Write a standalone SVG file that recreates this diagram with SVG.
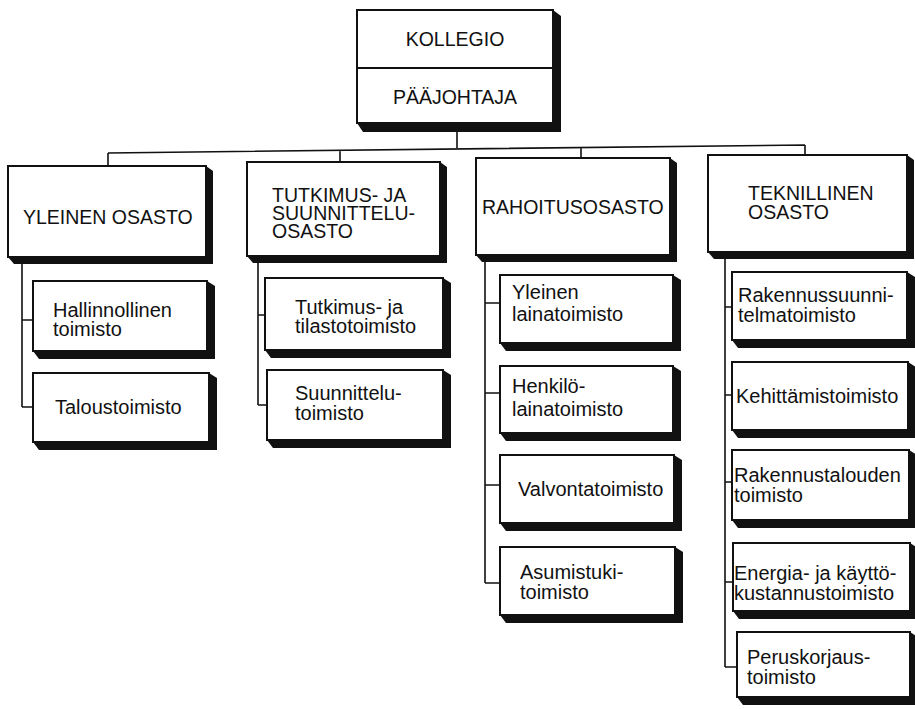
<svg xmlns="http://www.w3.org/2000/svg" width="915" height="709" viewBox="0 0 915 709">
<style>
.box{fill:#fff;stroke:#111;stroke-width:2}
.sh{fill:#111}
.c{fill:none;stroke:#111;stroke-width:1.6}
.t{font-family:"Liberation Sans",Arial,Helvetica,sans-serif;font-size:20px;fill:#111}
.u{font-size:19.5px}
.m{text-anchor:middle}
</style>
<rect width="915" height="709" fill="#fff"/>
<g id="connectors">
<path class="c" d="M457,132V148M108,153L805,145M108,153V166M340,150.3V162M581,147.6V158M805,145V155"/>
<path class="c" d="M22,257V407M22,320H33M22,407H33"/>
<path class="c" d="M258,256V405M258,315H265M258,405H267"/>
<path class="c" d="M485,255V583M485,303H500M485,393H500M485,485H500M485,583H500"/>
<path class="c" d="M725,252V667M725,307H732M725,395H732M725,482H732M725,582H733M725,667H737"/>
</g>
<g id="kollegio">
<polygon class="sh" points="553,10 561,16 561,132 363,132 357,123"/>
<rect class="box" x="357" y="10" width="196" height="113"/>
<line x1="357" y1="68" x2="553" y2="68" stroke="#111" stroke-width="2"/>
<text class="t u m" x="455" y="46">KOLLEGIO</text>
<text class="t u m" x="455" y="104">PÄÄJOHTAJA</text>
</g>
<g id="yleinen-osasto">
<polygon class="sh" points="206,166 213,171 213,264 14,264 8,257"/>
<rect class="box" x="8" y="166" width="198" height="91"/>
<text class="t u" x="23" y="224">YLEINEN OSASTO</text>
</g>
<g id="tutkimus-osasto">
<polygon class="sh" points="440,162 447,167 447,263 253,263 247,256"/>
<rect class="box" x="247" y="162" width="193" height="94"/>
<text class="t u" x="272" y="202">TUTKIMUS- JA</text>
<text class="t u" x="272" y="220">SUUNNITTELU-</text>
<text class="t u" x="272" y="238">OSASTO</text>
</g>
<g id="rahoitusosasto">
<polygon class="sh" points="670,158 677,163 677,262 482,262 476,255"/>
<rect class="box" x="476" y="158" width="194" height="97"/>
<text class="t u" x="482" y="214">RAHOITUSOSASTO</text>
</g>
<g id="teknillinen-osasto">
<polygon class="sh" points="907,155 914,160 914,259 714,259 708,252"/>
<rect class="box" x="708" y="155" width="199" height="97"/>
<text class="t u" x="748" y="200">TEKNILLINEN</text>
<text class="t u" x="748" y="219">OSASTO</text>
</g>
<g id="hallinnollinen">
<polygon class="sh" points="207,281 215,286 215,359 39,359 33,351"/>
<rect class="box" x="33" y="281" width="174" height="70"/>
<text class="t" x="53" y="317">Hallinnollinen</text>
<text class="t" x="53" y="336">toimisto</text>
</g>
<g id="talous">
<polygon class="sh" points="209,373 217,378 217,450 39,450 33,442"/>
<rect class="box" x="33" y="373" width="176" height="69"/>
<text class="t" x="55" y="414">Taloustoimisto</text>
</g>
<g id="tilasto">
<polygon class="sh" points="443,278 451,283 451,358 271,358 265,350"/>
<rect class="box" x="265" y="278" width="178" height="72"/>
<text class="t" x="295" y="314">Tutkimus- ja</text>
<text class="t" x="295" y="333">tilastotoimisto</text>
</g>
<g id="suunnittelu">
<polygon class="sh" points="443,370 451,375 451,448 273,448 267,440"/>
<rect class="box" x="267" y="370" width="176" height="70"/>
<text class="t" x="295" y="400">Suunnittelu-</text>
<text class="t" x="295" y="420">toimisto</text>
</g>
<g id="yleinen-laina">
<polygon class="sh" points="673,275 681,280 681,351 506,351 500,343"/>
<rect class="box" x="500" y="275" width="173" height="68"/>
<text class="t" x="512" y="299">Yleinen</text>
<text class="t" x="512" y="321">lainatoimisto</text>
</g>
<g id="henkilo">
<polygon class="sh" points="673,366 681,371 681,441 506,441 500,433"/>
<rect class="box" x="500" y="366" width="173" height="67"/>
<text class="t" x="512" y="393">Henkilö-</text>
<text class="t" x="512" y="416">lainatoimisto</text>
</g>
<g id="valvonta">
<polygon class="sh" points="674,455 682,460 682,531 506,531 500,523"/>
<rect class="box" x="500" y="455" width="174" height="68"/>
<text class="t" x="518" y="496">Valvontatoimisto</text>
</g>
<g id="asumistuki">
<polygon class="sh" points="675,547 683,552 683,623 506,623 500,615"/>
<rect class="box" x="500" y="547" width="175" height="68"/>
<text class="t" x="520" y="579">Asumistuki-</text>
<text class="t" x="520" y="599">toimisto</text>
</g>
<g id="rakennussuunnitelma">
<polygon class="sh" points="907,272 915,277 915,348 738,348 732,340"/>
<rect class="box" x="732" y="272" width="175" height="68"/>
<text class="t" x="738" y="302">Rakennussuunni-</text>
<text class="t" x="738" y="322">telmatoimisto</text>
</g>
<g id="kehittamis">
<polygon class="sh" points="908,362 916,367 916,438 738,438 732,430"/>
<rect class="box" x="732" y="362" width="176" height="68"/>
<text class="t" x="736" y="403">Kehittämistoimisto</text>
</g>
<g id="rakennustalous">
<polygon class="sh" points="909,450 917,455 917,528 738,528 732,520"/>
<rect class="box" x="732" y="450" width="177" height="70"/>
<text class="t" x="734" y="482">Rakennustalouden</text>
<text class="t" x="734" y="502">toimisto</text>
</g>
<g id="energia">
<polygon class="sh" points="910,543 918,548 918,619 739,619 733,611"/>
<rect class="box" x="733" y="543" width="177" height="68"/>
<text class="t" x="734" y="580">Energia- ja käyttö-</text>
<text class="t" x="734" y="600">kustannustoimisto</text>
</g>
<g id="peruskorjaus">
<polygon class="sh" points="910,632 918,637 918,705 743,705 737,697"/>
<rect class="box" x="737" y="632" width="173" height="65"/>
<text class="t" x="747" y="664">Peruskorjaus-</text>
<text class="t" x="747" y="684">toimisto</text>
</g>
</svg>
